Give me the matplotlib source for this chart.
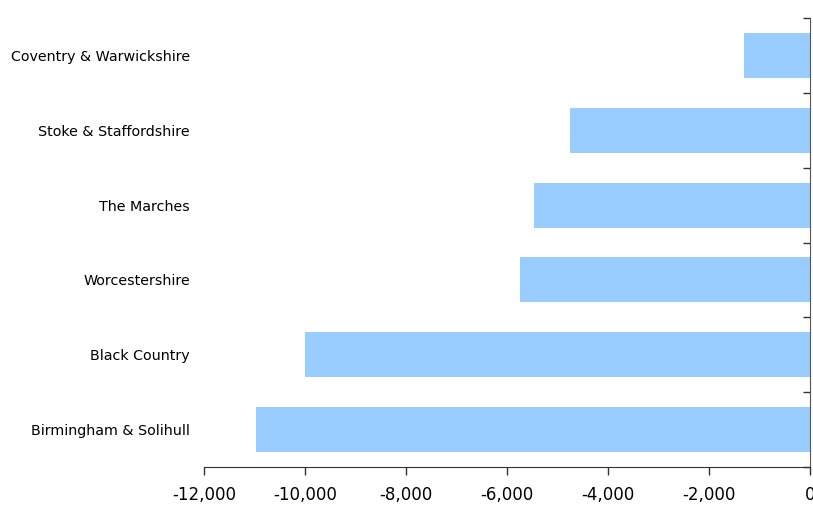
import matplotlib
matplotlib.use("Agg")
import matplotlib.pyplot as plt
from matplotlib.ticker import FuncFormatter, FixedLocator

# Áreas y cambio neto (de arriba hacia abajo)
areas = ["Coventry & Warwickshire", "Stoke & Staffordshire", "The Marches",
         "Worcestershire", "Black Country", "Birmingham & Solihull"]
valores = [-1300, -4750, -5470, -5740, -10000, -10970]

fig = plt.figure(figsize=(8.13, 5.05), dpi=100)
ax = fig.add_axes([204 / 813, 38 / 505, 606 / 813, 449 / 505])

pos = list(range(len(areas)))[::-1]
ax.barh(pos, valores, height=0.6, color="#99CCFF", zorder=2)

ax.set_xlim(-12000, 0)
ax.set_ylim(-0.5, len(areas) - 0.5)
ax.set_xticks(range(-12000, 1, 2000))
ax.xaxis.set_major_formatter(FuncFormatter(lambda v, p: f"{v:,.0f}"))
ax.tick_params(axis="x", direction="out", length=6, width=1, color="#333333",
               labelsize=12, pad=8)

# etiquetas de categoría a la izquierda, marcas en el eje derecho
ax.set_yticks(pos)
ax.set_yticklabels(areas, fontsize=10.3)
ax.tick_params(axis="y", which="major", length=0, pad=10)
ax.yaxis.set_minor_locator(FixedLocator([p - 0.5 for p in range(len(areas) + 1)]))
ax.tick_params(axis="y", which="minor", left=False, right=True, direction="in",
               length=5, width=1, color="#333333")

for lado in ["left", "top"]:
    ax.spines[lado].set_visible(False)
ax.spines["right"].set_color("#555555")
ax.spines["bottom"].set_color("#333333")

fig.savefig("out.png", dpi=100)
